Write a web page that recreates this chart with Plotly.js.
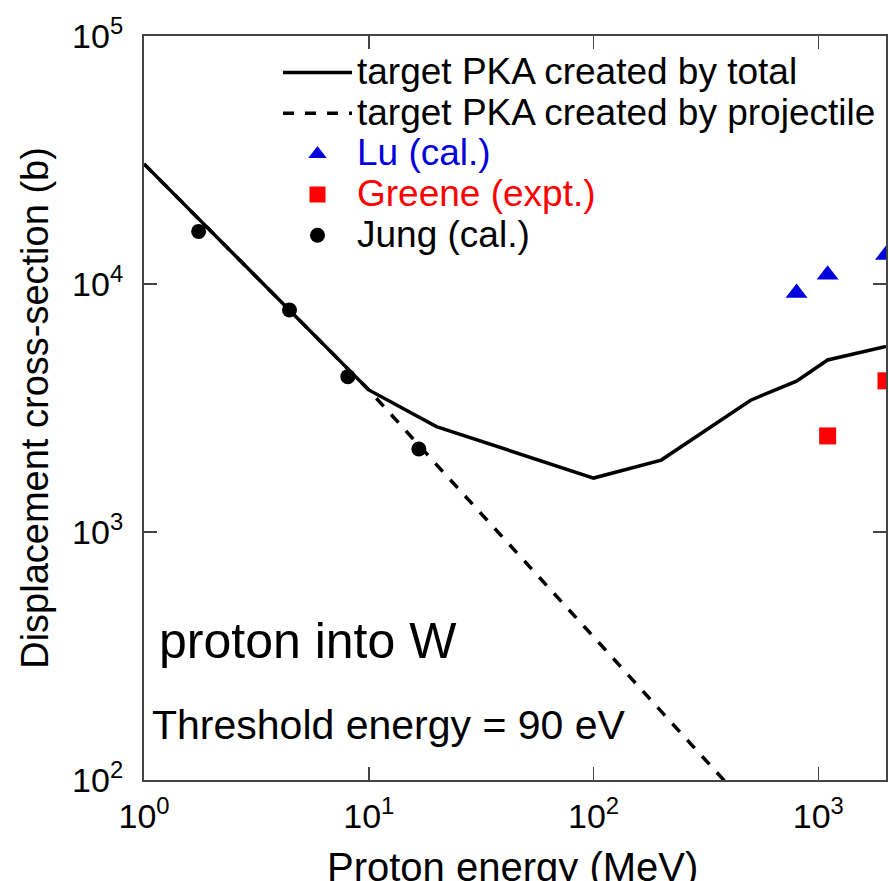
<!DOCTYPE html>
<html>
<head>
<meta charset="utf-8">
<script src="https://cdn.plot.ly/plotly-3.0.1.min.js"></script>
<style>
  html, body { margin: 0; padding: 0; background: #ffffff; }
  #chart { width: 889px; height: 881px; }
</style>
</head>
<body>
<div id="chart"></div>
<script>
// Displacement cross-section of W under proton irradiation (barns vs MeV)

// target PKA created by total
const totalEnergy = [1, 10, 20, 100, 200, 500, 800, 1100, 2000];
const totalSigma  = [30500, 3740, 2660, 1650, 1950, 3400, 4060, 4940, 5600];

// target PKA created by projectile
const projEnergy = [1, 10, 20, 50, 100, 200, 500];
const projSigma  = [30500, 3740, 1870, 755, 378, 189, 76];

// Lu (cal.)
const luEnergy = [800, 1100, 2000];
const luSigma  = [9200, 10900, 13100];

// Greene (expt.)
const greeneEnergy = [1100, 2000];
const greeneSigma  = [2440, 4070];

// Jung (cal.)
const jungEnergy = [1.75, 4.44, 8.07, 16.7];
const jungSigma  = [16300, 7850, 4230, 2160];

// decade tick labels
const xTickVals = [1, 10, 100, 1000];
const xTickText = ['10<sup>0</sup>', '10<sup>1</sup>', '10<sup>2</sup>', '10<sup>3</sup>'];
const yTickVals = [100, 1000, 10000, 100000];
const yTickText = ['10<sup>2</sup>', '10<sup>3</sup>', '10<sup>4</sup>', '10<sup>5</sup>'];

const FONT = '"Liberation Sans", Arial, Helvetica, sans-serif';
const BLUE = '#0000dd';
const RED = '#ff0000';

// legend rows are packed tighter than the text size would give by default
const entry = (txt, color) =>
  '<span style="font-size:37px' + (color ? ';fill:' + color : '') + '">' + txt + '</span>';

const traces = [
  {
    x: projEnergy, y: projSigma, type: 'scatter', mode: 'lines',
    name: entry('target PKA created by projectile'), legendrank: 2,
    line: { color: '#000000', width: 3.5, dash: '11px,11px' }
  },
  {
    x: totalEnergy, y: totalSigma, type: 'scatter', mode: 'lines',
    name: entry('target PKA created by total'), legendrank: 1,
    line: { color: '#000000', width: 3.5 }
  },
  {
    x: luEnergy, y: luSigma, type: 'scatter', mode: 'markers',
    name: entry('Lu (cal.)', BLUE), legendrank: 3,
    marker: { symbol: 'triangle-up', size: 19, color: BLUE }
  },
  {
    x: greeneEnergy, y: greeneSigma, type: 'scatter', mode: 'markers',
    name: entry('Greene (expt.)', RED), legendrank: 4,
    marker: { symbol: 'square', size: 17, color: RED }
  },
  {
    x: jungEnergy, y: jungSigma, type: 'scatter', mode: 'markers',
    name: entry('Jung (cal.)'), legendrank: 5,
    marker: { symbol: 'circle', size: 15, color: '#000000' }
  }
];

const axisCommon = {
  type: 'log',
  showgrid: false,
  zeroline: false,
  showline: true,
  linecolor: '#444444',
  linewidth: 2,
  mirror: 'ticks',
  ticks: 'inside',
  ticklen: 13,
  tickwidth: 1.5,
  tickcolor: '#444444',
  tickmode: 'array',
  tickfont: { family: FONT, size: 34, color: '#000000' }
};

const layout = {
  width: 889,
  height: 881,
  margin: { l: 144, r: 3, t: 36, b: 101 },
  paper_bgcolor: '#ffffff',
  plot_bgcolor: '#ffffff',
  font: { family: FONT, color: '#000000' },
  showlegend: true,
  legend: {
    x: 0.1806, xanchor: 'left',
    y: 0.985, yanchor: 'top',
    bgcolor: 'rgba(0,0,0,0)',
    borderwidth: 0,
    itemwidth: 69,
    traceorder: 'normal',
    font: { family: FONT, size: 29, color: '#000000' }
  },
  xaxis: Object.assign({}, axisCommon, {
    range: [0, Math.log10(2000)],
    tickvals: xTickVals,
    ticktext: xTickText,
    ticklabelstandoff: 5
  }),
  yaxis: Object.assign({}, axisCommon, {
    range: [2, 5],
    tickvals: yTickVals,
    ticktext: yTickText,
    ticklabelstandoff: 12,
    title: { text: 'Displacement cross-section (b)', font: { family: FONT, size: 38 }, standoff: 12 }
  }),
  annotations: [
    {
      // x-axis title, sitting on the bottom edge of the figure
      xref: 'paper', yref: 'paper', x: 0.497, y: -0.149,
      xanchor: 'center', yanchor: 'bottom', showarrow: false,
      text: 'Proton energy (MeV)',
      font: { family: FONT, size: 40, color: '#000000' }
    },
    {
      xref: 'paper', yref: 'paper', x: 0.0175, y: 0.1875,
      xanchor: 'left', yanchor: 'middle', showarrow: false,
      text: 'proton into W',
      font: { family: FONT, size: 50, color: '#000000' }
    },
    {
      xref: 'paper', yref: 'paper', x: 0.0081, y: 0.0735,
      xanchor: 'left', yanchor: 'middle', showarrow: false,
      text: 'Threshold energy = 90 eV',
      font: { family: FONT, size: 41, color: '#000000' }
    }
  ]
};

Plotly.newPlot('chart', traces, layout, { staticPlot: true, displayModeBar: false });
</script>
</body>
</html>
